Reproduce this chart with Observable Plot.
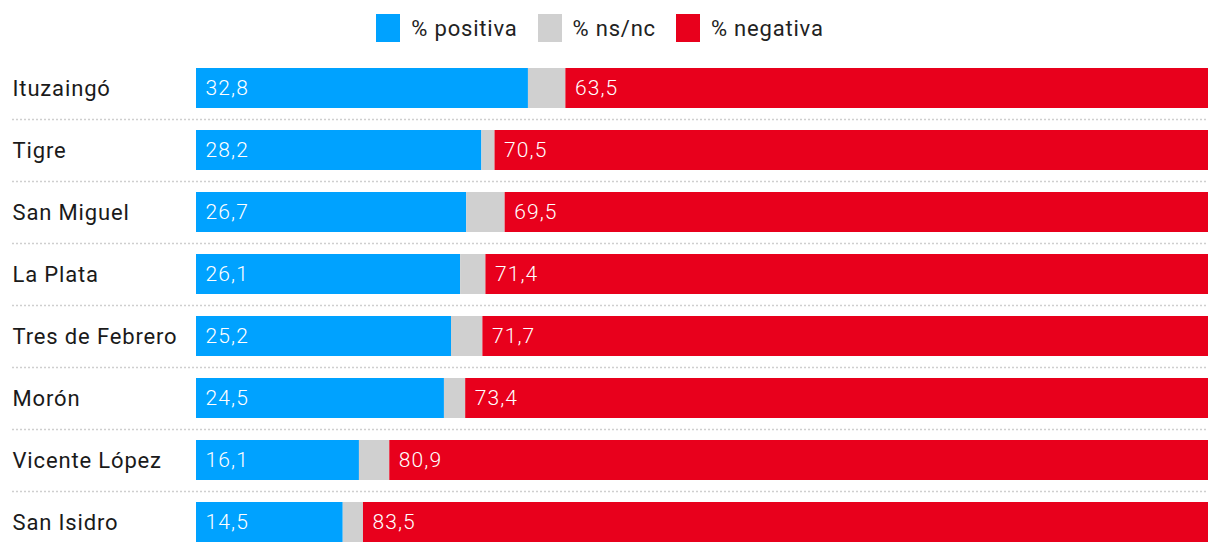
<!DOCTYPE html>
<html>
<head>
<meta charset="utf-8">
<script src="https://cdn.jsdelivr.net/npm/d3@7"></script>
<script src="https://cdn.jsdelivr.net/npm/@observablehq/plot@0.6"></script>
<style>
  html, body { margin: 0; padding: 0; background: #fff; }
  body { width: 1220px; height: 554px; overflow: hidden; font-family: Roboto, "Noto Sans", sans-serif; }
  #legend { height: 56px; display: flex; justify-content: center; align-items: flex-start; padding-top: 14px; padding-right: 20px; box-sizing: border-box; font-size: 22px; color: #222; letter-spacing: 0.8px; }
  .item { display: flex; align-items: center; margin: 0 10px; }
  .sw { width: 24px; height: 28px; margin-right: 11px; }
</style>
</head>
<body>
<div id="legend"></div>
<div id="chart"></div>
<script>
const municipios = ["Ituzaingó", "Tigre", "San Miguel", "La Plata", "Tres de Febrero", "Morón", "Vicente López", "San Isidro"];
const positiva = [32.8, 28.2, 26.7, 26.1, 25.2, 24.5, 16.1, 14.5];
const negativa = [63.5, 70.5, 69.5, 71.4, 71.7, 73.4, 80.9, 83.5];
const nsnc = positiva.map((p, i) => +(100 - p - negativa[i]).toFixed(1));
const series = ["% positiva", "% ns/nc", "% negativa"];
const colors = ["#00a2ff", "#d0d0d0", "#e8001c"];

const rows = [];
municipios.forEach((m, i) => {
  const vals = [positiva[i], nsnc[i], negativa[i]];
  let start = 0;
  vals.forEach((v, k) => {
    rows.push({m, s: series[k], v, start, label: k === 1 ? "" : v.toFixed(1).replace(".", ",")});
    start += v;
  });
});

const legend = document.getElementById("legend");
series.forEach((s, i) => {
  const it = document.createElement("div");
  it.className = "item";
  it.innerHTML = `<span class="sw" style="background:${colors[i]}"></span><span>${s}</span>`;
  legend.appendChild(it);
});

const chart = Plot.plot({
  width: 1220,
  height: 498,
  marginLeft: 196,
  marginRight: 12,
  marginTop: 1,
  marginBottom: 1,
  style: {fontFamily: "Roboto, 'Noto Sans', sans-serif", background: "#fff"},
  x: {domain: [0, 100], axis: null},
  y: {domain: municipios, axis: null, paddingInner: 22/62, paddingOuter: 11/62},
  color: {domain: series, range: colors},
  marks: [
    Plot.ruleY(municipios.slice(0, -1), {y: d => d, dy: 31, stroke: "#cfcfcf", strokeWidth: 1.5, strokeDasharray: "2,2", insetLeft: -184}),
    Plot.barX(rows, Plot.stackX({x: "v", y: "m", fill: "s", order: series})),
    Plot.text(rows.filter(d => d.label), {x: "start", y: "m", text: "label", textAnchor: "start", dx: 9, fill: "white", fontSize: 21, fontWeight: 300}),
    Plot.text(municipios, {y: d => d, text: d => d, frameAnchor: "left", textAnchor: "start", dx: -184, fontSize: 22, fill: "#1a1a1a"})
  ]
});
chart.querySelectorAll("text").forEach(t => {
  const s = municipios.includes(t.textContent) ? "0.85px" : "1.1px";
  t.setAttribute("letter-spacing", s);
  t.style.letterSpacing = s;
});
document.getElementById("chart").appendChild(chart);
</script>
</body>
</html>
